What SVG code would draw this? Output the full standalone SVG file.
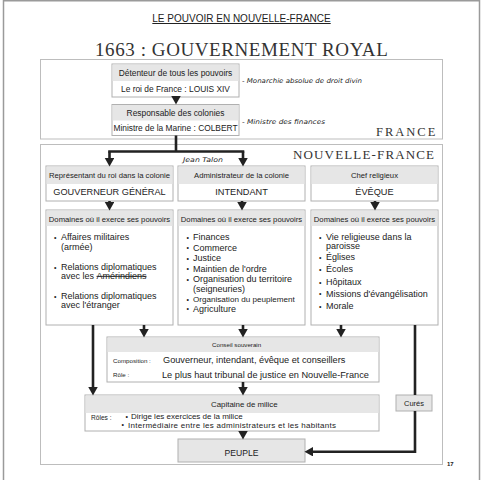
<svg xmlns="http://www.w3.org/2000/svg" width="482" height="480" viewBox="0 0 482 480">
<defs>
<style>
.t{font-family:"Liberation Sans",Arial,sans-serif;fill:#222}
.c{text-anchor:middle}
.sf{font-family:"Liberation Serif","Times New Roman",serif;fill:#333}
.hw{font-family:"DejaVu Sans",sans-serif;font-style:italic;fill:#222}
.frame{fill:#fff;stroke:#bdbdbd;stroke-width:1}
.box{fill:#fff;stroke:#b0b0b0;stroke-width:1}
.hd{fill:#e6e6e6}
.gbox{fill:#e6e6e6;stroke:#b0b0b0;stroke-width:1}
.ln{fill:none;stroke:#222;stroke-width:2.6}
.ar{fill:none;stroke:#222;stroke-width:2.6;marker-end:url(#ah)}
</style>
<marker id="ah" markerWidth="10" markerHeight="10" refX="4" refY="4.75" orient="auto" markerUnits="userSpaceOnUse">
<path d="M0,0 L8.5,4.75 L0,9.5 z" fill="#222"/>
</marker>
</defs>
<rect x="0" y="0" width="482" height="480" fill="#fff"/>
<path d="M3.5,482 V0.8 H479.5 V482" fill="none" stroke="#9a9a9a" stroke-width="1.5"/>

<g id="titles">
<text class="t c" x="241.5" y="22" font-size="10" text-decoration="underline">LE POUVOIR EN NOUVELLE-FRANCE</text>
<text class="sf" x="95" y="56" font-size="19" letter-spacing="0.58">1663 : GOUVERNEMENT ROYAL</text>
</g>

<g id="france">
<rect class="frame" x="40.5" y="59.5" width="402" height="79.5"/>
<text class="sf" x="376" y="135.5" font-size="12.5" letter-spacing="2">FRANCE</text>
</g>

<g id="nouvelle-france">
<rect class="frame" x="40.5" y="144.5" width="402" height="320"/>
<text class="sf" x="293" y="159" font-size="13" letter-spacing="1.15">NOUVELLE-FRANCE</text>
</g>

<g id="roi">
<rect class="box" x="112" y="64" width="127" height="33"/>
<rect class="hd" x="112.5" y="64.5" width="126" height="16.5"/>
<text class="t c" x="175.5" y="75.5" font-size="8.4">Détenteur de tous les pouvoirs</text>
<text class="t c" x="175.5" y="91.5" font-size="8.4">Le roi de France : LOUIS XIV</text>
</g>

<g id="colbert">
<rect class="box" x="112" y="104.5" width="127" height="31"/>
<rect class="hd" x="112.5" y="105" width="126" height="15.5"/>
<text class="t c" x="175.5" y="115.5" font-size="8.4">Responsable des colonies</text>
<text class="t c" x="175.5" y="130.5" font-size="8.4">Ministre de la Marine : COLBERT</text>
</g>

<g id="notes">
<text class="hw" x="242" y="82.5" font-size="6.5" textLength="120" lengthAdjust="spacingAndGlyphs">- Monarchie absolue de droit divin</text>
<text class="hw" x="242" y="123.5" font-size="6.5" textLength="83" lengthAdjust="spacingAndGlyphs">- Ministre des finances</text>
<text class="hw" x="183" y="162" font-size="6.5" textLength="40" lengthAdjust="spacingAndGlyphs">Jean Talon</text>
<text class="hw" x="98" y="285.5" font-size="5.5" textLength="30" lengthAdjust="spacingAndGlyphs">autochtones</text>
</g>

<g id="gouverneur">
<rect class="box" x="46" y="166" width="127" height="35"/>
<rect class="hd" x="46.5" y="166.5" width="126" height="17.5"/>
<text class="t c" x="109.5" y="177.8" font-size="7.7">Représentant du roi dans la colonie</text>
<text class="t c" x="109.5" y="195" font-size="9.2">GOUVERNEUR GÉNÉRAL</text>
</g>
<g id="intendant">
<rect class="box" x="178" y="166" width="127" height="35"/>
<rect class="hd" x="178.5" y="166.5" width="126" height="17.5"/>
<text class="t c" x="241.5" y="177.8" font-size="7.7">Administrateur de la colonie</text>
<text class="t c" x="241.5" y="195" font-size="9.2">INTENDANT</text>
</g>
<g id="eveque">
<rect class="box" x="311" y="166" width="127" height="35"/>
<rect class="hd" x="311.5" y="166.5" width="126" height="17.5"/>
<text class="t c" x="374.5" y="177.8" font-size="7.7">Chef religieux</text>
<text class="t c" x="374.5" y="195" font-size="9.2">ÉVÊQUE</text>
</g>

<g id="domaines-gouverneur">
<rect class="box" x="46" y="210" width="127" height="115"/>
<rect class="hd" x="46.5" y="210.5" width="126" height="15.5"/>
<text class="t c" x="109.5" y="222.3" font-size="7.7">Domaines où il exerce ses pouvoirs</text>
<g class="t" font-size="9">
<text x="54" y="239.5" font-size="7">•</text><text x="61" y="240">Affaires militaires</text>
<text x="61" y="250">(armée)</text>
<text x="54" y="269.5" font-size="7">•</text><text x="61" y="270">Relations diplomatiques</text>
<text x="61" y="279">avec les </text><text x="96.5" y="279" text-decoration="line-through">Amérindiens</text>
<text x="54" y="298.5" font-size="7">•</text><text x="61" y="299">Relations diplomatiques</text>
<text x="61" y="308">avec l'étranger</text>
</g>
</g>

<g id="domaines-intendant">
<rect class="box" x="178" y="210" width="127" height="115"/>
<rect class="hd" x="178.5" y="210.5" width="126" height="15.5"/>
<text class="t c" x="241.5" y="222.3" font-size="7.7">Domaines où il exerce ses pouvoirs</text>
<g class="t" font-size="9">
<text x="186.5" y="239.5" font-size="7">•</text><text x="193" y="240">Finances</text>
<text x="186.5" y="250" font-size="7">•</text><text x="193" y="250.5">Commerce</text>
<text x="186.5" y="260.5" font-size="7">•</text><text x="193" y="261">Justice</text>
<text x="186.5" y="271" font-size="7">•</text><text x="193" y="271.5">Maintien de l'ordre</text>
<text x="186.5" y="281.5" font-size="7">•</text><text x="193" y="282">Organisation du territoire</text>
<text x="193" y="291.5">(seigneuries)</text>
<text x="186.5" y="301.5" font-size="7">•</text><text x="193" y="302" font-size="8.1">Organisation du peuplement</text>
<text x="186.5" y="311" font-size="7">•</text><text x="193" y="311.5">Agriculture</text>
</g>
</g>

<g id="domaines-eveque">
<rect class="box" x="311" y="210" width="127" height="115"/>
<rect class="hd" x="311.5" y="210.5" width="126" height="15.5"/>
<text class="t c" x="374.5" y="222.3" font-size="7.7">Domaines où il exerce ses pouvoirs</text>
<g class="t" font-size="9">
<text x="319" y="239.5" font-size="7">•</text><text x="326" y="240">Vie religieuse dans la</text>
<text x="326" y="248.5">paroisse</text>
<text x="319" y="259.5" font-size="7">•</text><text x="326" y="260">Églises</text>
<text x="319" y="271.5" font-size="7">•</text><text x="326" y="272">Écoles</text>
<text x="319" y="284.5" font-size="7">•</text><text x="326" y="285">Hôpitaux</text>
<text x="319" y="296" font-size="7">•</text><text x="326" y="296.5">Missions d'évangélisation</text>
<text x="319" y="308.5" font-size="7">•</text><text x="326" y="309">Morale</text>
</g>
</g>

<g id="conseil">
<rect class="box" x="107" y="337" width="272" height="45"/>
<rect class="hd" x="107.5" y="337.5" width="271" height="14.5"/>
<text class="t" x="212" y="347" font-size="6.2">Conseil souverain</text>
<text class="t" x="113" y="362.5" font-size="6.2">Composition :</text>
<text class="t" x="163" y="363" font-size="9.2">Gouverneur, intendant, évêque et conseillers</text>
<text class="t" x="113" y="377" font-size="6.2">Rôle :</text>
<text class="t" x="162" y="377.5" font-size="9.2">Le plus haut tribunal de justice en Nouvelle-France</text>
</g>

<g id="capitaine">
<rect class="box" x="85" y="395" width="294" height="36"/>
<rect class="hd" x="85.5" y="395.5" width="293" height="17.5"/>
<text class="t" x="211" y="406.5" font-size="7.9">Capitaine de milice</text>
<text class="t" x="91" y="419.5" font-size="6.6">Rôles :</text>
<text class="t" x="125.5" y="418.5" font-size="7">•</text>
<text class="t" x="131" y="419.3" font-size="8">Dirige les exercices de la milice</text>
<text class="t" x="121.5" y="426.8" font-size="7">•</text>
<text class="t" x="128" y="427.5" font-size="8" textLength="208" lengthAdjust="spacing">Intermédiaire entre les administrateurs et les habitants</text>
</g>

<g id="cures">
<rect class="gbox" x="396" y="395" width="36" height="16"/>
<text class="t c" x="414" y="406" font-size="7.5">Curés</text>
</g>

<g id="peuple">
<rect class="gbox" x="178" y="439" width="127" height="23"/>
<text class="t c" x="241.5" y="455.5" font-size="8.6">PEUPLE</text>
</g>

<g id="connectors">
<path class="ar" d="M176,97 V100"/>
<path class="ln" d="M176,135.5 V151.5 M108.2,151.5 H244.3"/>
<path class="ar" d="M109.5,151.5 V162"/>
<path class="ar" d="M243,151.5 V162"/>
<path class="ar" d="M109.5,201 V206"/>
<path class="ar" d="M242,201 V206"/>
<path class="ar" d="M375,201 V206"/>
<path class="ar" d="M93,325 V391"/>
<path class="ar" d="M144,325 V333"/>
<path class="ar" d="M243,325 V333"/>
<path class="ar" d="M341,325 V333"/>
<path class="ln" d="M415,325 V395"/>
<path class="ar" d="M243,382 V391"/>
<path class="ar" d="M243,431 V435"/>
<path class="ar" d="M415,411 V451.7 H309"/>
</g>

<text class="t" x="447" y="466" font-size="6" font-weight="bold" fill="#444">17</text>
</svg>
